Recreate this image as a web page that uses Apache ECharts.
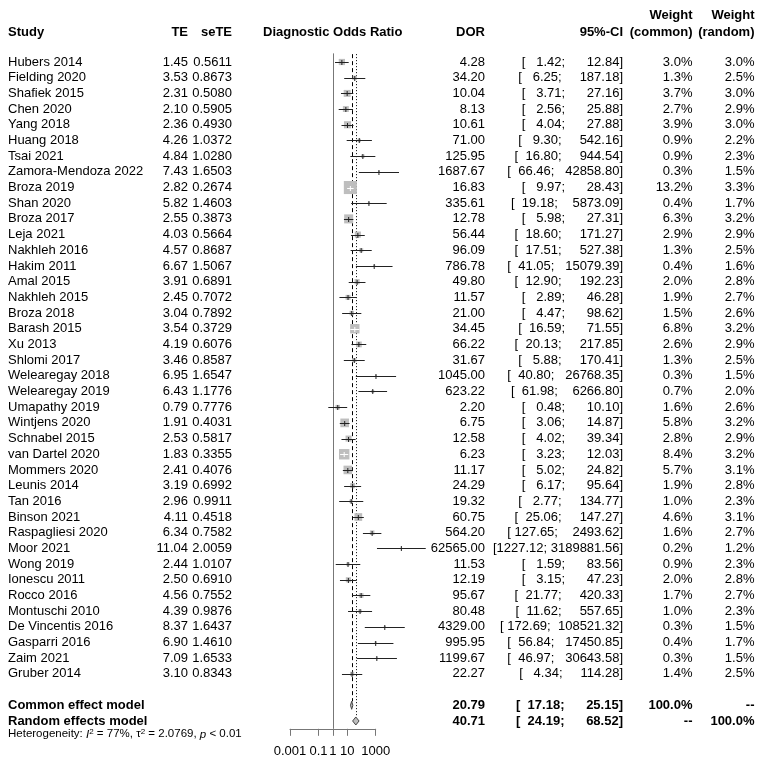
<!DOCTYPE html>
<html><head><meta charset="utf-8">
<script src="https://cdn.jsdelivr.net/npm/echarts@6/dist/echarts.min.js"></script>
<style>html,body{margin:0;padding:0;background:#fff}#c{width:766px;height:766px}</style>
</head><body><div id="c"></div>
<script>
// ---------- data ----------
const studies = ["Hubers 2014","Fielding 2020","Shafiek 2015","Chen 2020","Yang 2018","Huang 2018","Tsai 2021","Zamora-Mendoza 2022","Broza 2019","Shan 2020","Broza 2017","Leja 2021","Nakhleh 2016","Hakim 2011","Amal 2015","Nakhleh 2015","Broza 2018","Barash 2015","Xu 2013","Shlomi 2017","Welearegay 2018","Welearegay 2019","Umapathy 2019","Wintjens 2020","Schnabel 2015","van Dartel 2020","Mommers 2020","Leunis 2014","Tan 2016","Binson 2021","Raspagliesi 2020","Moor 2021","Wong 2019","Ionescu 2011","Rocco 2016","Montuschi 2010","De Vincentis 2016","Gasparri 2016","Zaim 2021","Gruber 2014"];
const TE = [1.45,3.53,2.31,2.10,2.36,4.26,4.84,7.43,2.82,5.82,2.55,4.03,4.57,6.67,3.91,2.45,3.04,3.54,4.19,3.46,6.95,6.43,0.79,1.91,2.53,1.83,2.41,3.19,2.96,4.11,6.34,11.04,2.44,2.50,4.56,4.39,8.37,6.90,7.09,3.10];
const seTE = [0.5611,0.8673,0.5080,0.5905,0.4930,1.0372,1.0280,1.6503,0.2674,1.4603,0.3873,0.5664,0.8687,1.5067,0.6891,0.7072,0.7892,0.3729,0.6076,0.8587,1.6547,1.1776,0.7776,0.4031,0.5817,0.3355,0.4076,0.6992,0.9911,0.4518,0.7582,2.0059,1.0107,0.6910,0.7552,0.9876,1.6437,1.4610,1.6533,0.8343];
const DOR = [4.28,34.20,10.04,8.13,10.61,71.00,125.95,1687.67,16.83,335.61,12.78,56.44,96.09,786.78,49.80,11.57,21.00,34.45,66.22,31.67,1045.00,623.22,2.20,6.75,12.58,6.23,11.17,24.29,19.32,60.75,564.20,62565.00,11.53,12.19,95.67,80.48,4329.00,995.95,1199.67,22.27];
const ciLower = [1.42,6.25,3.71,2.56,4.04,9.30,16.80,66.46,9.97,19.18,5.98,18.60,17.51,41.05,12.90,2.89,4.47,16.59,20.13,5.88,40.80,61.98,0.48,3.06,4.02,3.23,5.02,6.17,2.77,25.06,127.65,1227.12,1.59,3.15,21.77,11.62,172.69,56.84,46.97,4.34];
const ciUpper = [12.84,187.18,27.16,25.88,27.88,542.16,944.54,42858.80,28.43,5873.09,27.31,171.27,527.38,15079.39,192.23,46.28,98.62,71.55,217.85,170.41,26768.35,6266.80,10.10,14.87,39.34,12.03,24.82,95.64,134.77,147.27,2493.62,3189881.56,83.56,47.23,420.33,557.65,108521.32,17450.85,30643.58,114.28];
const wCommon = [3.0,1.3,3.7,2.7,3.9,0.9,0.9,0.3,13.2,0.4,6.3,2.9,1.3,0.4,2.0,1.9,1.5,6.8,2.6,1.3,0.3,0.7,1.6,5.8,2.8,8.4,5.7,1.9,1.0,4.6,1.6,0.2,0.9,2.0,1.7,1.0,0.3,0.4,0.3,1.4];
const wRandom = [3.0,2.5,3.0,2.9,3.0,2.2,2.3,1.5,3.3,1.7,3.2,2.9,2.5,1.6,2.8,2.7,2.6,3.2,2.9,2.5,1.5,2.0,2.6,3.2,2.9,3.2,3.1,2.8,2.3,3.1,2.7,1.2,2.3,2.8,2.7,2.3,1.5,1.7,1.5,2.5];
const modelNames = ["Common effect model","Random effects model"];
const modelDOR = [20.79, 40.71];
const modelLower = [17.18, 24.19];
const modelUpper = [25.15, 68.52];
const modelWCommon = ["100.0%","--"];
const modelWRandom = ["--","100.0%"];
const xTicks = [0.001, 0.1, 1, 10, 1000];
const headers = {study:"Study", te:"TE", se:"seTE", plot:"Diagnostic Odds Ratio", dor:"DOR", ci:"95%-CI", w1:"Weight", w2:"Weight", wc:"(common)", wr:"(random)"};

// ---------- layout ----------
const FONT = '"Liberation Sans", Arial, sans-serif';
const ROW0 = 46.31, ROWH = 15.69, YMAX = 43.5;
const COMMON_ROW = studies.length + 2, RANDOM_ROW = studies.length + 3;
const X = {study:8, te:188, se:232, dor:485, ci:623, wc:692.5, wr:754.5, plotC:332.7};
const LO_W = Math.max(...ciLower.concat(modelLower).map(v => v.toFixed(2).length));
const UP_W = Math.max(...ciUpper.concat(modelUpper).map(v => v.toFixed(2).length));
function ciStr(lo, up) {
  return '[' + lo.toFixed(2).padStart(LO_W, ' ') + '; ' + up.toFixed(2).padStart(UP_W, ' ') + ']';
}

function txt(x, y, s, align, bold, size) {
  return {type:'text', style:{text:s, x:x, y:y, align:align, verticalAlign:'middle',
    fontSize:size||13, fontFamily:FONT, fontWeight:bold?'bold':'normal', fill:'#000'}};
}
function rowTexts(y, cells, bold) {
  return {type:'group', children:[
    txt(X.study, y, cells[0], 'left', bold),
    txt(X.te, y, cells[1], 'right', bold),
    txt(X.se, y, cells[2], 'right', bold),
    txt(X.dor, y, cells[3], 'right', bold),
    txt(X.ci, y, cells[4], 'right', bold),
    txt(X.wc, y, cells[5], 'right', bold),
    txt(X.wr, y, cells[6], 'right', bold)
  ]};
}
function hdr(x, y, s, align) {
  return {type:'text', x:0, y:0, style:{text:s, x:x, y:y, align:align, verticalAlign:'middle', fontSize:13, fontWeight:'bold', fontFamily:FONT, fill:'#000'}};
}
const GRAY = '#bebebe';

const option = {
  animation: false,
  backgroundColor: '#fff',
  grid: {left: 290, width: 85.7, top: ROW0, height: YMAX * ROWH},
  xAxis: {
    type: 'log', logBase: 10, min: 0.001, max: 1000, position: 'bottom',
    axisLine: {show: true, onZero: false, lineStyle: {color: '#777', width: 1}},
    axisTick: {show: true, length: 7, customValues: xTicks, lineStyle: {color: '#777'}},
    axisLabel: {customValues: xTicks, margin: 16, fontSize: 13, fontFamily: FONT, color: '#000',
      formatter: v => String(v)},
    splitLine: {show: false}, minorTick: {show: false}
  },
  yAxis: {type: 'value', min: 0, max: YMAX, inverse: true, show: false},
  graphic: [
    hdr(X.study, 32, headers.study, 'left'),
    hdr(X.te, 32, headers.te, 'right'),
    hdr(X.se, 32, headers.se, 'right'),
    hdr(X.plotC, 32, headers.plot, 'center'),
    hdr(X.dor, 32, headers.dor, 'right'),
    hdr(X.ci, 32, headers.ci, 'right'),
    hdr(X.wc, 15, headers.w1, 'right'),
    hdr(X.wc, 32, headers.wc, 'right'),
    hdr(X.wr, 15, headers.w2, 'right'),
    hdr(X.wr, 32, headers.wr, 'right'),
    {type:'text', x:0, y:0, style:{
      x:X.study, y:ROW0 + (RANDOM_ROW + 0.85) * ROWH,
      text:'{n|Heterogeneity: }{i|I}{s|2}{n| = 77%, τ}{s|2}{n| = 2.0769, }{i|p}{n| < 0.01}',
      align:'left', verticalAlign:'middle', fontFamily:FONT, fill:'#000',
      rich:{n:{fontSize:11.5, fontFamily:FONT, lineHeight:14},
            i:{fontSize:11.5, fontStyle:'italic', fontFamily:FONT, lineHeight:14},
            s:{fontSize:8, fontFamily:FONT, verticalAlign:'top', lineHeight:14}}}}
  ],
  series: [
    // reference lines
    {type:'custom', clip:false, silent:true, z:1,
     data:[[1, 0]],
     renderItem: (p, api) => {
       const xs = Math.round(api.coord([1, 0])[0]) + 0.5;
       const xc = Math.round(api.coord([modelDOR[0], 0])[0]) + 0.5;
       const xr = Math.round(api.coord([modelDOR[1], 0])[0]) + 0.5;
       const yTop = api.coord([1, 0.45])[1];
       const yBot = api.coord([1, YMAX])[1];
       return {type:'group', children:[
         {type:'line', shape:{x1:xs, y1:yTop, x2:xs, y2:yBot}, style:{stroke:'#777', lineWidth:1}},
         {type:'line', shape:{x1:xc, y1:api.coord([1,0.5])[1], x2:xc, y2:api.coord([1, COMMON_ROW-0.25])[1]}, style:{stroke:'#000', lineWidth:1, lineDash:[4,3]}},
         {type:'line', shape:{x1:xr, y1:api.coord([1,0.5])[1], x2:xr, y2:api.coord([1, RANDOM_ROW-0.25])[1]}, style:{stroke:'#000', lineWidth:1, lineDash:[1,2]}}
       ]};
     }},
    // study squares + CIs
    {type:'custom', clip:false, silent:true, z:3,
     data: DOR.map((d, i) => [d, i + 1, ciLower[i], ciUpper[i], wCommon[i]]),
     renderItem: (p, api) => {
       const c = api.coord([api.value(0), api.value(1)]);
       const l = api.coord([api.value(2), api.value(1)]);
       const u = api.coord([api.value(3), api.value(1)]);
       const side = 3.6 * Math.sqrt(api.value(4));
       const y = Math.round(c[1]) + 0.5;
       const inside = (u[0] - l[0]) < side;
       const col = inside ? '#fff' : '#222';
       return {type:'group', children:[
         {type:'rect', shape:{x:c[0]-side/2, y:c[1]-side/2, width:side, height:side}, style:{fill:GRAY}},
         {type:'line', shape:{x1:l[0], y1:y, x2:u[0], y2:y}, style:{stroke:col, lineWidth:1}},
         {type:'line', shape:{x1:c[0], y1:y-2.5, x2:c[0], y2:y+2.5}, style:{stroke:col, lineWidth:1}}
       ]};
     }},
    // diamonds
    {type:'custom', clip:false, silent:true, z:3,
     data: modelDOR.map((d, i) => [d, COMMON_ROW + i, modelLower[i], modelUpper[i]]),
     renderItem: (p, api) => {
       const c = api.coord([api.value(0), api.value(1)]);
       const l = api.coord([api.value(2), api.value(1)]);
       const u = api.coord([api.value(3), api.value(1)]);
       const h = 4;
       return {type:'polygon', shape:{points:[[l[0], c[1]], [c[0], c[1]-h], [u[0], c[1]], [c[0], c[1]+h]]},
               style:{fill:GRAY, stroke:'#444', lineWidth:1}};
     }},
    // study table text
    {type:'custom', clip:false, silent:true, z:5,
     data: studies.map((s, i) => [1, i + 1]),
     renderItem: (p, api) => {
       const i = p.dataIndex;
       const y = api.coord([1, api.value(1)])[1];
       return rowTexts(y, [studies[i], TE[i].toFixed(2), seTE[i].toFixed(4), DOR[i].toFixed(2),
         ciStr(ciLower[i], ciUpper[i]), wCommon[i].toFixed(1) + '%', wRandom[i].toFixed(1) + '%'], false);
     }},
    // model rows text
    {type:'custom', clip:false, silent:true, z:5,
     data: modelNames.map((s, i) => [1, COMMON_ROW + i]),
     renderItem: (p, api) => {
       const i = p.dataIndex;
       const y = api.coord([1, api.value(1)])[1];
       return rowTexts(y, [modelNames[i], '', '', modelDOR[i].toFixed(2),
         ciStr(modelLower[i], modelUpper[i]), modelWCommon[i], modelWRandom[i]], true);
     }}
  ]
};
const chart = echarts.init(document.getElementById('c'));
chart.setOption(option);
</script></body></html>
